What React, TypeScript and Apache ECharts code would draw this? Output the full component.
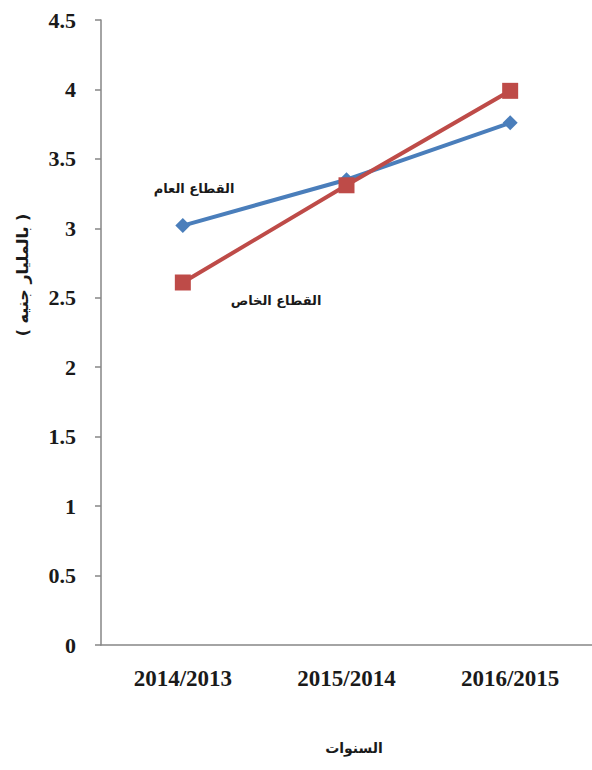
import React, { useEffect, useRef } from "react";
import * as echarts from "echarts";

const categories = ["2014/2013", "2015/2014", "2016/2015"];
const publicSector = [3.02, 3.35, 3.76];
const privateSector = [2.61, 3.31, 3.99];
const publicName = "القطاع العام";
const privateName = "القطاع الخاص";
const xAxisName = "السنوات";
const yAxisName = "( بالمليار جنيه )";

export default function App() {
  const ref = useRef<HTMLDivElement>(null);
  useEffect(() => {
    if (!ref.current) return;
    const chart = echarts.init(ref.current, null, { renderer: "svg" });
    const serif = "'Liberation Serif', 'Times New Roman', serif";
    const arabic = "'DejaVu Sans', 'Noto Sans', sans-serif";
    chart.setOption({
      animation: false,
      backgroundColor: "#ffffff",
      grid: { left: 101, right: 0, top: 20, bottom: 125, containLabel: false },
      xAxis: {
        type: "category",
        data: categories,
        boundaryGap: true,
        axisLine: { lineStyle: { color: "#868686", width: 1.5 } },
        axisTick: { show: false },
        axisLabel: {
          margin: 22,
          color: "#1a1a1a",
          fontFamily: serif,
          fontWeight: "bold",
          fontSize: 23,
        },
        splitLine: { show: false },
      },
      yAxis: {
        type: "value",
        min: 0,
        max: 4.5,
        interval: 0.5,
        axisLine: { show: true, lineStyle: { color: "#868686", width: 1.5 } },
        axisTick: { show: true, inside: false, length: 6, lineStyle: { color: "#868686", width: 1.5 } },
        axisLabel: {
          margin: 25,
          color: "#1a1a1a",
          fontFamily: serif,
          fontWeight: "bold",
          fontSize: 22,
        },
        splitLine: { show: false },
      },
      series: [
        {
          name: publicName,
          type: "line",
          data: publicSector,
          symbol: "diamond",
          symbolSize: 15,
          lineStyle: { color: "#4A7EBB", width: 4 },
          itemStyle: { color: "#4A7EBB" },
        },
        {
          name: privateName,
          type: "line",
          data: privateSector,
          symbol: "rect",
          symbolSize: 16,
          lineStyle: { color: "#BE4B48", width: 4 },
          itemStyle: { color: "#BE4B48" },
        },
      ],
      graphic: [
        {
          type: "text",
          x: 194,
          y: 188,
          style: {
            text: publicName,
            fontFamily: arabic,
            fontWeight: "bold",
            fontSize: 13,
            fill: "#1a1a1a",
            align: "center",
            verticalAlign: "middle",
          },
        },
        {
          type: "text",
          x: 276,
          y: 300,
          style: {
            text: privateName,
            fontFamily: arabic,
            fontWeight: "bold",
            fontSize: 13,
            fill: "#1a1a1a",
            align: "center",
            verticalAlign: "middle",
          },
        },
        {
          type: "text",
          x: 354,
          y: 748,
          style: {
            text: xAxisName,
            fontFamily: arabic,
            fontWeight: "bold",
            fontSize: 14,
            fill: "#1a1a1a",
            align: "center",
            verticalAlign: "middle",
          },
        },
        {
          type: "text",
          x: 22,
          y: 275,
          rotation: Math.PI / 2,
          style: {
            text: yAxisName,
            fontFamily: arabic,
            fontWeight: "bold",
            fontSize: 16,
            fill: "#1a1a1a",
            align: "center",
            verticalAlign: "middle",
          },
        },
      ],
    });
    return () => chart.dispose();
  }, []);
  return (
    <div
      ref={ref}
      style={{ position: "absolute", left: 0, top: 0, width: 592, height: 770 }}
    />
  );
}
